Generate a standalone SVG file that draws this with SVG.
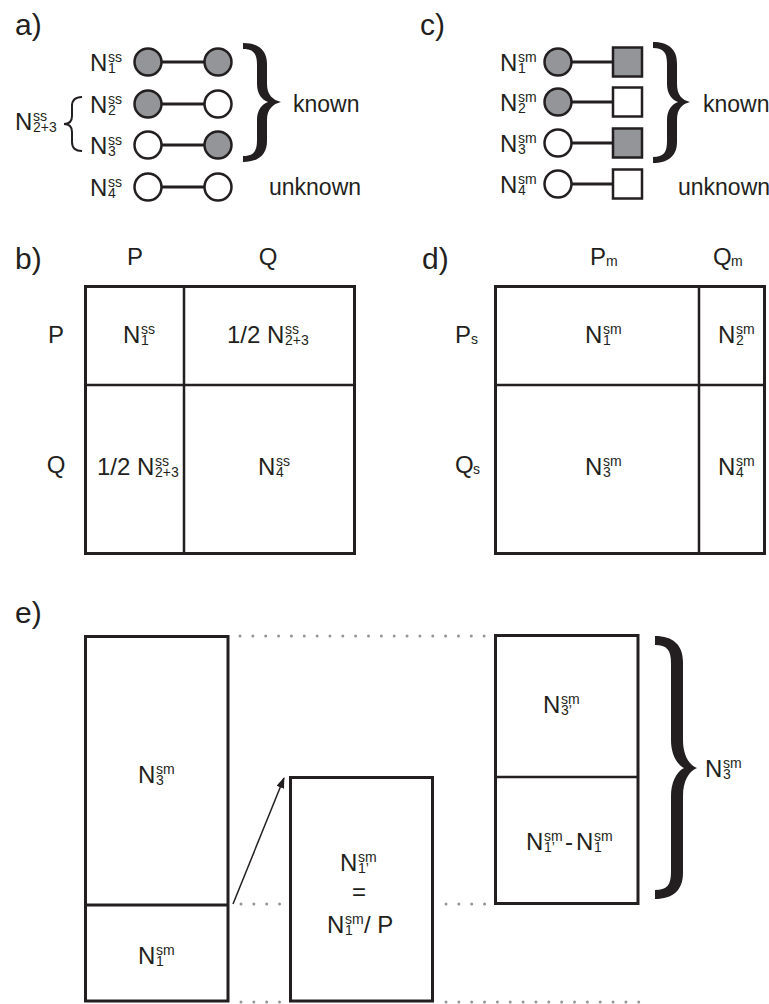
<svg xmlns="http://www.w3.org/2000/svg" width="769" height="1004" viewBox="0 0 769 1004">
<style>
.t{font-family:"Liberation Sans",Arial,Helvetica,sans-serif;font-size:24px;fill:#231f20}
.k{font-size:23px}
.s{font-size:14px}
.lab{font-size:30px}
.box{fill:none;stroke:#231f20;stroke-width:3}
.div{fill:none;stroke:#231f20;stroke-width:2.5}
.cw{fill:#fff;stroke:#231f20;stroke-width:2.5}
.cg{fill:#939598;stroke:#231f20;stroke-width:2.5}
.lk{stroke:#231f20;stroke-width:3}
.br{fill:#231f20}
.thin{fill:none;stroke:#231f20;stroke-width:2}
.dot{fill:none;stroke:#939598;stroke-width:3;stroke-linecap:round;stroke-dasharray:0 12.85}
.arr{stroke:#231f20;stroke-width:1.5;fill:none}
</style>
<defs>
<marker id="ah" markerWidth="11" markerHeight="8" refX="10" refY="4" orient="auto" markerUnits="userSpaceOnUse">
<path d="M0,0 L11,4 L0,8 z" fill="#231f20"/>
</marker>
</defs>
<rect width="769" height="1004" fill="#fff"/>

<!-- panel labels -->
<text class="t lab" x="15" y="35">a)</text>
<text class="t lab" x="420" y="35">c)</text>
<text class="t lab" x="15" y="269">b)</text>
<text class="t lab" x="422" y="269">d)</text>
<text class="t lab" x="15" y="623">e)</text>

<g id="connectors">
<line class="lk" x1="161" y1="62" x2="205" y2="62"/>
<line class="lk" x1="161" y1="104" x2="205" y2="104"/>
<line class="lk" x1="161" y1="145" x2="205" y2="145"/>
<line class="lk" x1="161" y1="187" x2="205" y2="187"/>
<line class="lk" x1="571" y1="62" x2="613" y2="62"/>
<line class="lk" x1="571" y1="102" x2="613" y2="102"/>
<line class="lk" x1="571" y1="143" x2="613" y2="143"/>
<line class="lk" x1="571" y1="184" x2="613" y2="184"/>
<line class="arr" x1="233" y1="904" x2="284" y2="778" marker-end="url(#ah)"/>
<line class="dot" x1="240" y1="636" x2="486" y2="636"/>
<line class="dot" x1="241" y1="904" x2="281" y2="904"/>
<line class="dot" x1="446" y1="904" x2="486" y2="904"/>
<line class="dot" x1="241" y1="1002" x2="281" y2="1002"/>
<line class="dot" x1="446" y1="1002" x2="640" y2="1002"/>
</g>

<!-- panel a -->
<g id="a-row1">
<circle class="cg" cx="148" cy="62" r="13.5"/><circle class="cg" cx="218" cy="62" r="13.5"/>
<text class="t" x="90" y="71">N<tspan class="s" x="108" y="62">ss</tspan><tspan class="s" x="108" y="73">1</tspan></text>
</g>
<g id="a-row2">
<circle class="cg" cx="148" cy="104" r="13.5"/><circle class="cw" cx="218" cy="104" r="13.5"/>
<text class="t" x="90" y="113">N<tspan class="s" x="108" y="104">ss</tspan><tspan class="s" x="108" y="115">2</tspan></text>
</g>
<g id="a-row3">
<circle class="cw" cx="148" cy="145" r="13.5"/><circle class="cg" cx="218" cy="145" r="13.5"/>
<text class="t" x="90" y="154">N<tspan class="s" x="108" y="145">ss</tspan><tspan class="s" x="108" y="156">3</tspan></text>
</g>
<g id="a-row4">
<circle class="cw" cx="148" cy="187" r="13.5"/><circle class="cw" cx="218" cy="187" r="13.5"/>
<text class="t" x="90" y="196">N<tspan class="s" x="108" y="187">ss</tspan><tspan class="s" x="108" y="198">4</tspan></text>
</g>
<g id="a-n23">
<path class="thin" d="M82 97 Q72 97 72 106 L72 116 Q72 124 64 124 Q72 124 72 132 L72 142 Q72 151 82 151"/>
<text class="t" x="15" y="130">N<tspan class="s" x="33" y="121">ss</tspan><tspan class="s" x="33" y="132">2+3</tspan></text>
</g>
<g id="a-known">
<path class="br" d="M243 43 C258 43 267 50 267 64 L267 84 C267 95 273 100 281 102 C273 104 267 109 267 120 L267 141 C267 155 258 162 243 162 L243 156 C254 156 257 151 257 140 L257 120 C257 110 262 104 268 102 C262 100 257 94 257 84 L257 65 C257 54 254 49 243 49 Z"/>
<text class="t k" x="293" y="112">known</text>
</g>
<g id="a-unknown"><text class="t k" x="269" y="195">unknown</text></g>

<!-- panel c -->
<g id="c-row1">
<circle class="cg" cx="558" cy="62" r="13.5"/><rect class="cg" x="613" y="47.5" width="29" height="29"/>
<text class="t" x="500" y="71">N<tspan class="s" x="518" y="62">sm</tspan><tspan class="s" x="518" y="73">1</tspan></text>
</g>
<g id="c-row2">
<circle class="cg" cx="558" cy="102" r="13.5"/><rect class="cw" x="613" y="87.5" width="29" height="29"/>
<text class="t" x="500" y="111">N<tspan class="s" x="518" y="102">sm</tspan><tspan class="s" x="518" y="113">2</tspan></text>
</g>
<g id="c-row3">
<circle class="cw" cx="558" cy="143" r="13.5"/><rect class="cg" x="613" y="128.5" width="29" height="29"/>
<text class="t" x="500" y="152">N<tspan class="s" x="518" y="143">sm</tspan><tspan class="s" x="518" y="154">3</tspan></text>
</g>
<g id="c-row4">
<circle class="cw" cx="558" cy="184" r="13.5"/><rect class="cw" x="613" y="169.5" width="29" height="29"/>
<text class="t" x="500" y="193">N<tspan class="s" x="518" y="184">sm</tspan><tspan class="s" x="518" y="195">4</tspan></text>
</g>
<g id="c-known">
<path class="br" d="M653 42 C668 42 677 49 677 63 L677 84 C677 95 682 100 690 102 C682 104 677 109 677 120 L677 142 C677 156 668 163 653 163 L653 157 C664 157 667 152 667 141 L667 120 C667 110 672 104 678 102 C672 100 667 94 667 84 L667 64 C667 53 664 48 653 48 Z"/>
<text class="t k" x="703" y="112">known</text>
</g>
<g id="c-unknown"><text class="t k" x="678" y="195">unknown</text></g>

<!-- panel b -->
<g id="b-matrix">
<rect class="box" x="85.5" y="286.5" width="269" height="267"/>
<line class="div" x1="184" y1="286" x2="184" y2="554"/>
<line class="div" x1="85" y1="385" x2="354" y2="385"/>
<text class="t" x="135" y="265" text-anchor="middle">P</text>
<text class="t" x="268" y="265" text-anchor="middle">Q</text>
<text class="t" x="56" y="343" text-anchor="middle">P</text>
<text class="t" x="56" y="473" text-anchor="middle">Q</text>
</g>
<g id="b-pp"><text class="t" x="123" y="343">N<tspan class="s" x="141" y="334">ss</tspan><tspan class="s" x="141" y="345">1</tspan></text></g>
<g id="b-pq"><text class="t" x="227" y="343">1/2 N<tspan class="s" x="285" y="334">ss</tspan><tspan class="s" x="285" y="345">2+3</tspan></text></g>
<g id="b-qp"><text class="t" x="97" y="475">1/2 N<tspan class="s" x="155" y="466">ss</tspan><tspan class="s" x="155" y="477">2+3</tspan></text></g>
<g id="b-qq"><text class="t" x="258" y="475">N<tspan class="s" x="276" y="466">ss</tspan><tspan class="s" x="276" y="477">4</tspan></text></g>

<!-- panel d -->
<g id="d-matrix">
<rect class="box" x="495.5" y="286.5" width="269" height="267"/>
<line class="div" x1="699" y1="286" x2="699" y2="554"/>
<line class="div" x1="495" y1="385" x2="765" y2="385"/>
<text class="t" x="590" y="265">P<tspan class="s" x="606" y="266">m</tspan></text>
<text class="t" x="713" y="265">Q<tspan class="s" x="731" y="266">m</tspan></text>
<text class="t" x="455" y="343">P<tspan class="s" x="471" y="344">s</tspan></text>
<text class="t" x="455" y="473">Q<tspan class="s" x="473" y="474">s</tspan></text>
</g>
<g id="d-pp"><text class="t" x="585" y="343">N<tspan class="s" x="603" y="334">sm</tspan><tspan class="s" x="603" y="345">1</tspan></text></g>
<g id="d-pq"><text class="t" x="718" y="343">N<tspan class="s" x="736" y="334">sm</tspan><tspan class="s" x="736" y="345">2</tspan></text></g>
<g id="d-qp"><text class="t" x="585" y="475">N<tspan class="s" x="603" y="466">sm</tspan><tspan class="s" x="603" y="477">3</tspan></text></g>
<g id="d-qq"><text class="t" x="718" y="475">N<tspan class="s" x="736" y="466">sm</tspan><tspan class="s" x="736" y="477">4</tspan></text></g>

<!-- panel e -->
<g id="e-left">
<rect class="box" x="85.5" y="636.5" width="142.5" height="364.5"/>
<line class="box" x1="85" y1="905" x2="228" y2="905"/>
<text class="t" x="138" y="783">N<tspan class="s" x="156" y="774">sm</tspan><tspan class="s" x="156" y="785">3</tspan></text>
<text class="t" x="138" y="964">N<tspan class="s" x="156" y="955">sm</tspan><tspan class="s" x="156" y="966">1</tspan></text>
</g>
<g id="e-mid">
<rect class="box" x="290.5" y="777.5" width="142" height="223.5"/>
<text class="t" x="340" y="871">N<tspan class="s" x="358" y="862">sm</tspan><tspan class="s" x="358" y="873">1’</tspan></text>
<text class="t" x="359" y="900" text-anchor="middle">=</text>
<text class="t" x="327" y="933">N<tspan class="s" x="345" y="924">sm</tspan><tspan class="s" x="345" y="935">1</tspan><tspan x="364" y="933">/ P</tspan></text>
</g>
<g id="e-right">
<rect class="box" x="495.5" y="635.5" width="142.5" height="268"/>
<line class="div" x1="495" y1="777" x2="638" y2="777"/>
<text class="t" x="543" y="713">N<tspan class="s" x="561" y="704">sm</tspan><tspan class="s" x="561" y="715">3’</tspan></text>
<text class="t" x="526" y="850">N<tspan class="s" x="544" y="841">sm</tspan><tspan class="s" x="544" y="852">1’</tspan><tspan x="565" y="850">-</tspan><tspan x="576" y="850">N</tspan><tspan class="s" x="594" y="841">sm</tspan><tspan class="s" x="594" y="852">1</tspan></text>
</g>
<g id="e-brace">
<path class="br" d="M655 636 C673 636 683 645 683 662 L683 740 C683 755 689 765 697 768 C689 771 683 781 683 796 L683 873 C683 890 673 899 655 899 L655 890 C667 890 671 885 671 872 L671 796 C671 783 676 772 684 768 C676 764 671 753 671 740 L671 663 C671 650 667 645 655 645 Z"/>
<text class="t" x="705" y="777">N<tspan class="s" x="723" y="768">sm</tspan><tspan class="s" x="723" y="779">3</tspan></text>
</g>
</svg>
